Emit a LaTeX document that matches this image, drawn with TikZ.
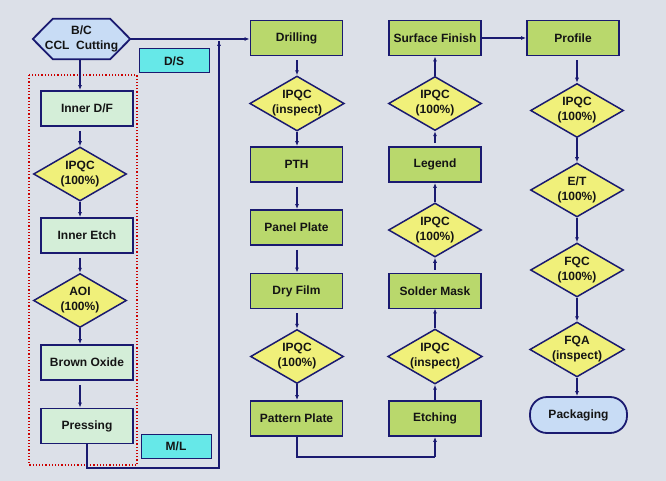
\documentclass[tikz,border=0pt]{standalone}
\usepackage{fontspec}
\setmainfont{Liberation Sans}
\usetikzlibrary{shapes.geometric,arrows.meta,calc}
\definecolor{navy}{HTML}{1A1A70}
\definecolor{bgc}{HTML}{DCE0E8}
\definecolor{gbox}{HTML}{B9D86C}
\definecolor{pgreen}{HTML}{D4EED8}
\definecolor{ydia}{HTML}{F0F07A}
\definecolor{lblue}{HTML}{C8DCF5}
\definecolor{cyanbox}{HTML}{66E8E8}
\definecolor{txt}{HTML}{141414}
\begin{document}
\begin{tikzpicture}[x=1pt,y=-1pt,
  every node/.style={font=\bfseries\fontsize{12}{15}\selectfont, text=txt, align=center},
  gstep/.style={draw=navy, line width=1.8pt, fill=gbox, minimum width=92pt, minimum height=35pt, inner sep=0pt},
  pstep/.style={draw=navy, line width=1.8pt, fill=pgreen, minimum width=92pt, minimum height=35pt, inner sep=0pt},
  dia/.style={diamond, draw=navy, line width=1.5pt, fill=ydia, minimum width=93pt, minimum height=54pt, aspect=1.72, inner sep=0pt},
  tag/.style={draw=navy, line width=1pt, fill=cyanbox, minimum width=70pt, minimum height=24pt, inner sep=0pt},
  arr/.style={draw=navy, line width=1.3pt, -{Latex[length=5pt,width=4pt]}},
  ln/.style={draw=navy, line width=1.3pt},
  hex/.style={draw=navy, line width=1.8pt, fill=lblue}
]
% background
\fill[bgc] (0,0) rectangle (666,481);
\useasboundingbox (0,0) rectangle (666,481);

% dotted frame
\draw[red!80!black, line width=1.2pt, dotted] (29,75) rectangle (137,465);

% left column
\node (bc) [minimum width=97pt, minimum height=40pt, inner sep=0pt] at (81.5,39) {};
\draw[hex] (bc.west) -- ($(bc.north west)+(20,0)$) -- ($(bc.north east)+(-20,0)$) -- (bc.east) -- ($(bc.south east)+(-20,0)$) -- ($(bc.south west)+(20,0)$) -- cycle;
\node (bct) at (bc.center) {B/C\\CCL\ \ Cutting};

\node (ds) [tag] at (174,61) {D/S};
\node (idf) [pstep] at (87,108.5) {Inner D/F};
\node (q1) [dia] at (80,174) {IPQC\\(100\%)};
\node (ie) [pstep] at (87,235.5) {Inner Etch};
\node (aoi) [dia] at (80,300.5) {AOI\\(100\%)};
\node (bo) [pstep] at (87,362.5) {Brown Oxide};
\node (pr) [pstep] at (87,426) {Pressing};
\node (ml) [tag] at (176,446.5) {M/L};

% column 2
\node (dr) [gstep] at (296.5,38) {Drilling};
\node (q2) [dia] at (297,103.5) {IPQC\\(inspect)};
\node (pth) [gstep] at (296.5,164.5) {PTH};
\node (pp) [gstep] at (296.5,227.5) {Panel Plate};
\node (df) [gstep] at (296.5,291) {Dry Film};
\node (q3) [dia] at (297,356.5) {IPQC\\(100\%)};
\node (pat) [gstep] at (296.5,418.5) {Pattern Plate};

% column 3
\node (sf) [gstep] at (435,38) {Surface Finish};
\node (q6) [dia] at (435,103.5) {IPQC\\(100\%)};
\node (lg) [gstep] at (435,164.5) {Legend};
\node (q5) [dia] at (435,230) {IPQC\\(100\%)};
\node (sm) [gstep] at (435,291) {Solder Mask};
\node (q4) [dia] at (435,356.5) {IPQC\\(inspect)};
\node (et) [gstep] at (435,418.5) {Etching};

% column 4
\node (pf) [gstep] at (573,38) {Profile};
\node (q7) [dia] at (577,110.5) {IPQC\\(100\%)};
\node (e2) [dia] at (577,190) {E/T\\(100\%)};
\node (fqc) [dia] at (577,270) {FQC\\(100\%)};
\node (fqa) [dia] at (577,349.5) {FQA\\(inspect)};
\node (pk) [draw=navy, line width=1.8pt, fill=lblue, rounded corners=17pt, minimum width=97pt, minimum height=36pt, inner sep=0pt] at (578.5,415) {Packaging};

% left column connectors
\draw[arr] (bc.south -| q1.center) -- (idf.north -| q1.center);
\draw[arr, shorten <=4pt] (idf.south -| q1.center) -- (q1.north);
\draw[arr] (q1.south) -- (ie.north -| q1.center);
\draw[arr, shorten <=4pt] (ie.south -| q1.center) -- (aoi.north);
\draw[arr] (aoi.south) -- (bo.north -| aoi.center);
\draw[arr, shorten <=4pt] (bo.south -| aoi.center) -- (pr.north -| aoi.center);

% ML loop to drilling
\coordinate (jb) at (219,468);
\coordinate (jt) at (219,41);
\draw[ln] (pr.south) |- (jb) -- (jt);
\draw[arr] ($(jt)+(0,10)$) -- (jt);
\draw[arr] (bc.east) -- (dr.west |- bc.east);

% column 2 connectors
\draw[arr, shorten <=4pt] (dr.south -| q2.center) -- (q2.north);
\draw[arr] (q2.south) -- (pth.north -| q2.center);
\draw[arr, shorten <=4pt] (pth.south -| q2.center) -- (pp.north -| q2.center);
\draw[arr, shorten <=4pt] (pp.south -| q2.center) -- (df.north -| q2.center);
\draw[arr, shorten <=4pt] (df.south -| q3.center) -- (q3.north);
\draw[arr] (q3.south) -- (pat.north -| q3.center);

% bottom link
\coordinate (kb) at (435,457);
\draw[ln] (pat.south -| q3.center) |- (kb);
\draw[arr] (kb) -- (et.south);

% column 3 connectors (upwards)
\draw[arr] (et.north) -- (q4.south);
\draw[arr] (q4.north) -- ($(sm.south)+(0,-1)$);
\draw[arr, shorten <=3pt] (sm.north) -- (q5.south);
\draw[arr] (q5.north) -- (lg.south);
\draw[arr, shorten <=3pt] (lg.north) -- (q6.south);
\draw[arr] (q6.north) -- (sf.south);
\draw[arr] (sf.east) -- (pf.west);

% column 4 connectors
\draw[arr, shorten <=4pt] (pf.south -| q7.center) -- (q7.north);
\draw[arr] (q7.south) -- (e2.north);
\draw[arr] (e2.south) -- (fqc.north);
\draw[arr] (fqc.south) -- (fqa.north);
\draw[arr] (fqa.south) -- (pk.north -| fqa.center);
\end{tikzpicture}
\end{document}
